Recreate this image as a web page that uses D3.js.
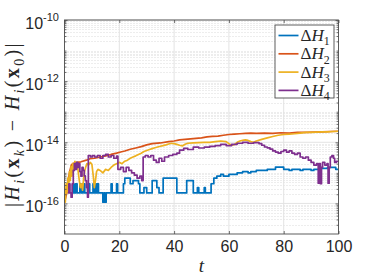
<!DOCTYPE html>
<html>
<head>
<meta charset="utf-8">
<script src="https://cdn.jsdelivr.net/npm/d3@7"></script>
<style>
  body { margin: 0; background: #fff; }
  svg { display: block; }
</style>
</head>
<body>
<svg id="chart" width="374" height="280"></svg>
<script>
// tick values
var xTicks = [0, 20, 40, 60, 80, 100];
var yTickExps = [-10, -12, -14, -16];

// legend labels (subscripts)
var seriesNames = ["1", "2", "3", "4"];
var seriesColors = ["#0072BD", "#D95319", "#EDB120", "#7E2F8E"];

// |H_i(x_k) - H_i(x_0)|, [t, value]
var dH1 = [
  [2.5, 2.2e-16], [3.0, 4.4e-16], [3.4, 2.2e-16], [4.0, 4.4e-16], [4.6, 2.2e-16], [5.6, 4.4e-16],
  [6.2, 2.2e-16], [6.8, 4.4e-16], [7.4, 2.2e-16], [8.6, 4.4e-16], [9.2, 2.2e-16], [10.4, 4.4e-16],
  [10.8, 2.2e-16], [11.2, 4.4e-16], [11.6, 2.2e-16], [12.0, 4.4e-16], [12.4, 2.2e-16], [14.0, 1.1e-16],
  [14.4, 2.2e-16], [14.8, 1.1e-16], [15.2, 2.2e-16], [17.0, 4.4e-16], [17.4, 2.2e-16], [19.0, 4.4e-16],
  [19.4, 2.2e-16], [21.5, 4.4e-16], [22.0, 6.7e-16], [24.0, 4.4e-16], [25.0, 5.6e-16], [27.0, 4.4e-16],
  [27.5, 2.2e-16], [29.0, 3.3e-16], [30.0, 2.2e-16], [32.0, 5.6e-16], [33.7, 3.3e-16], [34.5, 2.2e-16],
  [36.0, 6.7e-16], [41.0, 2.2e-16], [44.6, 5.6e-16], [47.0, 2.2e-16], [48.5, 3.3e-16], [49.0, 2.2e-16],
  [51.0, 3.3e-16], [51.4, 2.2e-16], [53.5, 4.4e-16], [54.5, 6.7e-16], [55.6, 7.8e-16], [57.0, 8.9e-16],
  [58.0, 7.8e-16], [60.0, 8.9e-16], [63.0, 1.0e-15], [65.0, 1.1e-15], [67.0, 1.0e-15], [68.0, 1.1e-15],
  [70.0, 1.2e-15], [74.0, 1.3e-15], [77.0, 1.55e-15], [80.0, 1.3e-15], [82.0, 1.2e-15], [83.0, 1.3e-15],
  [86.0, 1.2e-15], [87.0, 1.3e-15], [90.0, 1.2e-15], [91.0, 1.3e-15], [93.0, 1.4e-15], [96.0, 1.5e-15],
  [99.0, 1.3e-15], [100.0, 1.3e-15]
];
var dH2 = [
  [0, 1.1e-16], [0.4, 1.5e-16], [0.8, 2.2e-16], [1.2, 4.0e-16], [1.6, 8.0e-16], [2.0, 1.2e-15],
  [2.5, 1.8e-15], [3.0, 2.0e-15], [4.5, 2.2e-15], [6.0, 2.3e-15], [8.0, 2.6e-15], [9.3, 2.9e-15],
  [11.0, 3.0e-15], [13.0, 3.3e-15], [15.0, 3.6e-15], [17.0, 4.0e-15], [19.0, 4.4e-15], [20.5, 4.8e-15],
  [22.0, 5.2e-15], [24.0, 5.9e-15], [26.0, 6.5e-15], [28.0, 7.2e-15], [30.0, 8.2e-15], [32.0, 9.0e-15],
  [35.0, 9.5e-15], [38.0, 1.05e-14], [40.0, 1.1e-14], [42.0, 1.2e-14], [44.0, 1.25e-14], [46.0, 1.3e-14],
  [48.0, 1.35e-14], [50.0, 1.4e-14], [52.0, 1.5e-14], [54.0, 1.55e-14], [56.0, 1.6e-14], [58.0, 1.7e-14],
  [60.0, 1.8e-14], [62.0, 1.85e-14], [64.0, 1.9e-14], [66.0, 1.95e-14], [68.0, 2.0e-14], [70.0, 1.95e-14],
  [73.0, 2.0e-14], [76.0, 1.95e-14], [79.0, 2.05e-14], [82.0, 2.0e-14], [85.0, 2.1e-14], [88.0, 2.1e-14],
  [91.0, 2.15e-14], [94.0, 2.2e-14], [97.0, 2.25e-14], [100.0, 2.3e-14]
];
var dH3 = [
  [0, 2.2e-16], [0.3, 1.1e-16], [0.6, 4.4e-16], [0.9, 2.2e-16], [1.2, 6.7e-16], [1.5, 3.3e-16],
  [1.8, 1.1e-15], [2.1, 5.6e-16], [2.4, 1.6e-15], [2.7, 7.8e-16], [3.0, 2.0e-15], [3.4, 1.3e-15],
  [3.8, 2.4e-15], [4.2, 1.6e-15], [4.6, 2.2e-15], [5.0, 1.1e-15], [5.4, 5.6e-16], [5.8, 3.3e-16],
  [6.2, 4.4e-16], [6.6, 2.7e-16], [7.0, 6.7e-16], [7.4, 1.2e-15], [7.8, 1.6e-15], [8.2, 2.0e-15],
  [8.8, 1.8e-15], [9.4, 2.2e-15], [10.0, 1.9e-15], [10.5, 8.0e-16], [10.9, 3.3e-16], [11.3, 5.6e-16],
  [11.7, 1.1e-15], [12.2, 1.3e-15], [13.0, 1.2e-15], [14.0, 1.0e-15], [15.0, 1.3e-15], [16.0, 1.2e-15],
  [17.0, 1.5e-15], [18.0, 1.8e-15], [19.0, 2.0e-15], [20.0, 2.2e-15], [21.0, 2.0e-15], [22.0, 2.4e-15],
  [23.0, 2.6e-15], [24.0, 3.0e-15], [25.0, 3.3e-15], [26.0, 3.6e-15], [27.0, 4.0e-15], [28.0, 4.4e-15],
  [29.0, 5.0e-15], [30.0, 5.4e-15], [31.0, 5.8e-15], [32.0, 6.2e-15], [33.0, 6.6e-15], [34.0, 7.0e-15],
  [35.0, 7.4e-15], [36.0, 7.8e-15], [37.0, 8.2e-15], [38.0, 8.8e-15], [39.0, 9.3e-15], [40.0, 9.0e-15],
  [41.0, 8.5e-15], [42.0, 8.0e-15], [43.0, 7.6e-15], [44.0, 8.6e-15], [45.0, 9.3e-15], [47.0, 9.6e-15],
  [49.0, 9.8e-15], [51.0, 1.0e-14], [53.0, 1.0e-14], [55.0, 1.05e-14], [57.0, 1.1e-14], [59.0, 1.05e-14],
  [60.0, 9.0e-15], [61.0, 8.0e-15], [62.0, 8.4e-15], [63.0, 1.0e-14], [64.0, 1.1e-14], [65.0, 1.15e-14],
  [66.0, 1.2e-14], [67.0, 1.15e-14], [68.0, 1.05e-14], [69.0, 1.0e-14], [70.0, 1.1e-14], [72.0, 1.25e-14],
  [74.0, 1.4e-14], [76.0, 1.55e-14], [78.0, 1.7e-14], [80.0, 1.8e-14], [82.0, 1.85e-14], [84.0, 1.9e-14],
  [86.0, 2.0e-14], [88.0, 2.1e-14], [90.0, 2.1e-14], [92.0, 2.15e-14], [94.0, 2.2e-14], [96.0, 2.2e-14],
  [98.0, 2.25e-14], [100.0, 2.3e-14]
];
var dH4 = [
  [1.2, 2.2e-16], [1.6, 4.4e-16], [2.0, 2.2e-16], [2.4, 1.6e-16], [2.8, 4.4e-16], [3.2, 1.2e-15],
  [3.6, 2.0e-15], [4.0, 1.3e-15], [4.4, 2.2e-15], [4.8, 1.5e-15], [5.2, 2.0e-15], [5.6, 1.1e-15],
  [6.0, 7.8e-16], [6.4, 1.5e-15], [6.8, 1.2e-15], [7.2, 8.0e-16], [7.6, 5.6e-16], [8.0, 3.3e-16],
  [8.4, 1.6e-16], [8.7, 3.7e-15], [9.5, 3.3e-15], [10.2, 3.7e-15], [11.0, 3.3e-15], [12.0, 3.7e-15],
  [13.0, 3.0e-15], [14.0, 3.7e-15], [15.0, 4.0e-15], [16.0, 3.3e-15], [17.0, 3.7e-15], [18.0, 3.0e-15],
  [19.0, 3.5e-15], [19.5, 1.3e-15], [20.5, 1.5e-15], [21.5, 1.1e-15], [22.5, 1.5e-15], [23.5, 1.2e-15],
  [24.5, 1.0e-15], [25.5, 8.4e-16], [26.5, 6.7e-16], [27.5, 7.8e-16], [28.2, 5.6e-16], [28.7, 3.3e-15],
  [29.5, 3.7e-15], [30.5, 3.3e-15], [31.5, 3.7e-15], [32.5, 2.6e-15], [33.5, 2.2e-15], [34.5, 3.0e-15],
  [35.5, 2.4e-15], [36.5, 3.3e-15], [38.0, 3.7e-15], [39.5, 4.0e-15], [41.0, 4.4e-15], [42.0, 5.5e-15],
  [43.5, 6.3e-15], [45.0, 5.8e-15], [47.0, 6.9e-15], [49.0, 6.5e-15], [51.0, 6.9e-15], [53.0, 7.4e-15],
  [55.0, 7.8e-15], [57.0, 8.6e-15], [59.0, 7.8e-15], [61.0, 8.6e-15], [63.0, 9.3e-15], [65.0, 1.0e-14],
  [67.0, 9.3e-15], [69.0, 9.8e-15], [71.0, 9.0e-15], [72.0, 8.0e-15], [73.0, 7.0e-15], [74.0, 6.6e-15],
  [75.0, 6.0e-15], [76.0, 5.2e-15], [77.0, 4.8e-15], [78.0, 4.4e-15], [79.0, 5.0e-15], [80.0, 5.5e-15],
  [81.0, 4.8e-15], [82.0, 5.2e-15], [83.0, 4.4e-15], [84.0, 4.0e-15], [85.0, 4.4e-15], [86.0, 3.3e-15],
  [87.0, 3.0e-15], [88.0, 3.3e-15], [89.0, 2.6e-15], [90.0, 2.2e-15], [91.0, 1.8e-15], [92.0, 2.0e-15],
  [92.6, 4.6e-16], [93.0, 2.0e-15], [93.4, 4.4e-16], [93.8, 1.5e-15], [94.2, 2.2e-15], [95.0, 1.8e-15],
  [95.8, 2.0e-15], [96.2, 4.6e-16], [96.6, 1.5e-15], [97.0, 3.3e-15], [97.6, 3.7e-15], [98.2, 3.0e-15],
  [98.6, 2.2e-15], [99.2, 2.4e-15], [100.0, 2.2e-15]
];
var allSeries = [dH1, dH2, dH3, dH4];

// plot box in pixels ("top" is taken by window.top, so prefix everything)
var boxLeft = 64.5, boxRight = 338.5, boxTop = 20, boxBottom = 234;
var frameColor = "#4d4d4d";
var serif = "Liberation Serif, Times New Roman, serif";
var sans = "Liberation Sans, Arial, sans-serif";

var svg = d3.select("#chart");

var x = d3.scaleLinear().domain([0, 100]).range([boxLeft, boxRight]);
var y = d3.scaleLog().domain([1e-17, 1e-10]).range([boxBottom, boxTop]);

// minor y positions: 2..9 x 10^k and the unlabelled decades
var yMajor = yTickExps.map(e => Math.pow(10, e));
var yMinor = [];
for (var e = -17; e <= -11; e++) {
    for (var m = 2; m <= 9; m++) yMinor.push(m * Math.pow(10, e));
    if (e > -17 && yTickExps.indexOf(e) < 0) yMinor.push(Math.pow(10, e));
}

// grid
var grid = svg.append("g");
grid.selectAll(".yminor").data(yMinor).enter().append("line")
    .attr("x1", boxLeft).attr("x2", boxRight)
    .attr("y1", d => Math.round(y(d)) + 0.5).attr("y2", d => Math.round(y(d)) + 0.5)
    .attr("stroke", "#d2d2d2").attr("stroke-width", 0.8).attr("stroke-dasharray", "1,2");
grid.selectAll(".ymajor").data(yMajor).enter().append("line")
    .attr("x1", boxLeft).attr("x2", boxRight)
    .attr("y1", d => y(d)).attr("y2", d => y(d))
    .attr("stroke", "#e3e3e3").attr("stroke-width", 1);
grid.selectAll(".xmajor").data(xTicks).enter().append("line")
    .attr("y1", boxTop).attr("y2", boxBottom)
    .attr("x1", d => x(d)).attr("x2", d => x(d))
    .attr("stroke", "#e3e3e3").attr("stroke-width", 1);

// series lines
svg.append("clipPath").attr("id", "clip").append("rect")
    .attr("x", boxLeft).attr("y", boxTop).attr("width", boxRight - boxLeft).attr("height", boxBottom - boxTop);

var curves = [d3.curveStepAfter, d3.curveLinear, d3.curveLinear, d3.curveStepAfter];
svg.append("g").attr("clip-path", "url(#clip)")
    .selectAll("path").data(allSeries).enter().append("path")
    .attr("fill", "none")
    .attr("stroke", (d, i) => seriesColors[i])
    .attr("stroke-width", 1.7)
    .attr("stroke-linejoin", "round")
    .attr("d", (d, i) => d3.line().x(p => x(p[0])).y(p => y(p[1])).curve(curves[i])(d));

// axes, ticks pointing inwards
function plainAxis(g) {
    g.select(".domain").remove();
    g.selectAll(".tick line").attr("stroke", frameColor).attr("stroke-width", 0.8);
}
var xAxis = svg.append("g").attr("transform", "translate(0," + boxBottom + ")")
    .call(d3.axisBottom(x).tickValues(xTicks).tickSize(-3).tickPadding(7).tickFormat(d3.format("d")))
    .call(plainAxis);
xAxis.selectAll("text").attr("font-family", sans)
    .attr("font-size", 16).attr("fill", "#262626");
svg.append("g").attr("transform", "translate(0," + boxTop + ")")
    .call(d3.axisTop(x).tickValues(xTicks).tickSize(-3).tickFormat(""))
    .call(plainAxis);

var yAxis = svg.append("g").attr("transform", "translate(" + boxLeft + ",0)")
    .call(d3.axisLeft(y).tickValues(yMajor).tickSize(-3).tickPadding(5.5).tickFormat(""))
    .call(plainAxis);
yAxis.selectAll(".tick text").each(function(d, i) {
    var t = d3.select(this).attr("dy", 8.3)
        .attr("font-family", sans)
        .attr("font-size", 16).attr("fill", "#262626");
    t.append("tspan").text("10");
    t.append("tspan").attr("dy", -7.5).attr("font-size", 11).text(String(yTickExps[i]));
});
svg.append("g").attr("transform", "translate(" + boxLeft + ",0)")
    .call(d3.axisLeft(y).tickValues(yMinor).tickSize(-2).tickFormat(""))
    .call(plainAxis);
svg.append("g").attr("transform", "translate(" + boxRight + ",0)")
    .call(d3.axisRight(y).tickValues(yMajor).tickSize(-3).tickFormat(""))
    .call(plainAxis);
svg.append("g").attr("transform", "translate(" + boxRight + ",0)")
    .call(d3.axisRight(y).tickValues(yMinor).tickSize(-2).tickFormat(""))
    .call(plainAxis);

// frame
svg.append("rect")
    .attr("x", boxLeft).attr("y", boxTop).attr("width", boxRight - boxLeft).attr("height", boxBottom - boxTop)
    .attr("fill", "none").attr("stroke", frameColor).attr("stroke-width", 0.9);

// rich text helper: parts with italic / bold / subscript
function richText(sel, parts, size) {
    var shifted = false;
    parts.forEach(p => {
        var ts = sel.append("tspan").text(p.t);
        if (p.it) ts.attr("font-style", "italic");
        if (p.bf) ts.attr("font-weight", "bold");
        if (p.sub) {
            ts.attr("font-size", size * 0.7);
            if (!shifted) { ts.attr("dy", size * 0.25); shifted = true; }
        } else if (shifted) {
            ts.attr("dy", -size * 0.25); shifted = false;
        }
    });
}

// x label
svg.append("text")
    .attr("x", x(50)).attr("y", 272)
    .attr("text-anchor", "middle")
    .attr("font-family", serif)
    .attr("font-style", "italic").attr("font-size", 19).attr("fill", "#262626")
    .text("t");

// y label, spread out to the length it has in the picture
var ylabParts = [
    { t: "|" }, { t: "H", it: 1 }, { t: "i", it: 1, sub: 1 }, { t: "(" }, { t: "x", bf: 1 },
    { t: "k", it: 1, sub: 1 }, { t: ")" }, { t: " \u2212 " }, { t: "H", it: 1 }, { t: "i", it: 1, sub: 1 },
    { t: "(" }, { t: "x", bf: 1 }, { t: "0", sub: 1 }, { t: ")" }, { t: "|" }
];
var ylab = svg.append("text")
    .attr("transform", "translate(19,124) rotate(-90)")
    .attr("text-anchor", "middle")
    .attr("font-family", serif)
    .attr("font-size", 20).attr("fill", "#262626");
richText(ylab, ylabParts, 20);
var ylabLen = ylab.node().getComputedTextLength();
var ylabChars = ylabParts.map(p => p.t).join("").length;
ylab.attr("letter-spacing", Math.max(0, (166 - ylabLen) / ylabChars));

// legend
var legend = svg.append("g");
legend.append("rect")
    .attr("x", 275).attr("y", 25).attr("width", 59).attr("height", 73)
    .attr("fill", "#fff").attr("stroke", frameColor).attr("stroke-width", 0.9);
seriesNames.forEach((name, i) => {
    var ry = 35.5 + i * 18.3;
    legend.append("line")
        .attr("x1", 278.5).attr("x2", 298.5).attr("y1", ry).attr("y2", ry)
        .attr("stroke", seriesColors[i]).attr("stroke-width", 1.7);
    var t = legend.append("text")
        .attr("x", 300.5).attr("y", ry + 5.5)
        .attr("font-family", serif)
        .attr("font-size", 17).attr("fill", "#262626");
    richText(t, [{ t: "\u0394" }, { t: "H", it: 1 }, { t: name, sub: 1 }], 17);
});
</script>
</body>
</html>
